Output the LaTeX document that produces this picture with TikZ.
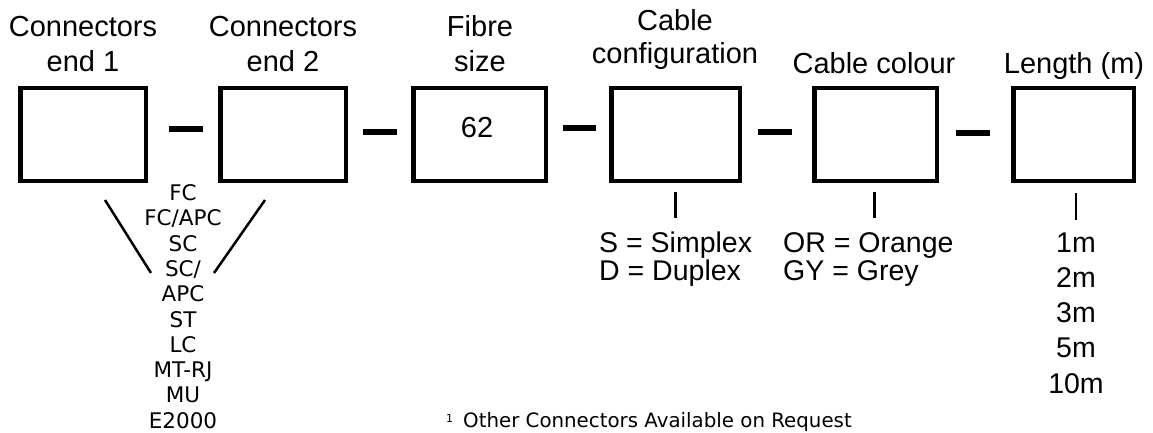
\documentclass[tikz,border=0pt]{standalone}
\usepackage{fontspec}
\setmainfont{Liberation Sans}
\newfontfamily\verd{DejaVu Sans}
\begin{document}
\begin{tikzpicture}[x=1pt,y=-1pt,
  box/.style={draw=black,line width=4.5pt,minimum width=#1,minimum height=93pt,inner sep=0pt,anchor=center},
  joiner/.style={line width=6.5pt},
  thin/.style={line width=2.5pt},
  lbl/.style={font=\fontsize{29}{35}\selectfont,inner sep=0pt,anchor=base},
  opt/.style={font=\fontsize{28.5}{35}\selectfont,inner sep=0pt,anchor=base},
  conn/.style={font=\verd\fontsize{21.5}{25}\selectfont,inner sep=0pt,anchor=base},
  note/.style={font=\verd\fontsize{19.8}{22}\selectfont,inner sep=0pt,anchor=base west}]
\useasboundingbox (0,0) rectangle (1153,432);
% boxes
\node[box=125.5pt] (b1) at (83,134.5) {};
\node[box=125.5pt] (b2) at (283,134.5) {};
\node[box=132.5pt] (b3) at (479.5,134.5) {};
\node[box=128.5pt] (b4) at (675.5,134.5) {};
\node[box=122.5pt] (b5) at (875.5,134.5) {};
\node[box=120.5pt] (b6) at (1073.5,134.5) {};
\node[lbl] (v62) at (477,137) {62};
% joiners
\coordinate (j1a) at (169,129); \coordinate (j1b) at (203,129);
\coordinate (j2a) at (363,132); \coordinate (j2b) at (397,132);
\coordinate (j3a) at (563,128); \coordinate (j3b) at (596,128);
\coordinate (j4a) at (758,132); \coordinate (j4b) at (792,132);
\coordinate (j5a) at (956,133); \coordinate (j5b) at (990,133);
\draw[joiner] (j1a) -- (j1b);
\draw[joiner] (j2a) -- (j2b);
\draw[joiner] (j3a) -- (j3b);
\draw[joiner] (j4a) -- (j4b);
\draw[joiner] (j5a) -- (j5b);
% titles
\node[lbl] (t1a) at (83,36) {Connectors};
\node[lbl] (t1b) at (83,71) {end 1};
\node[lbl] (t2a) at (283,36) {Connectors};
\node[lbl] (t2b) at (283,71) {end 2};
\node[lbl] (t3a) at (480,36.5) {Fibre};
\node[lbl] (t3b) at (480,71) {size};
\node[lbl] (t4a) at (675,30) {Cable};
\node[lbl] (t4b) at (675,63.5) {configuration};
\node[lbl] (t5) at (874,73) {Cable colour};
\node[lbl] (t6) at (1074,73) {Length (m)};
% connector list
\coordinate (l1a) at (105,200); \coordinate (l1b) at (151,273);
\coordinate (l2a) at (265,200); \coordinate (l2b) at (214,273);
\draw[thin] (l1a) -- (l1b);
\draw[thin] (l2a) -- (l2b);
\foreach \t [count=\i from 0] in {FC,FC/APC,SC,SC/,APC,ST,LC,MT-RJ,MU,E2000}
  \node[conn] (c\i) at (183,{200.5+\i*25.3}) {\t};
% ticks
\coordinate (k4a) at (675.5,192); \coordinate (k4b) at (675.5,218);
\coordinate (k5a) at (874.5,192); \coordinate (k5b) at (874.5,218);
\coordinate (k6a) at (1076,193); \coordinate (k6b) at (1076,220);
\draw[thin] (k4a) -- (k4b);
\draw[thin] (k5a) -- (k5b);
\draw[thin] (k6a) -- (k6b);
% options
\node[opt,anchor=base west] (s1) at (599,252) {S = Simplex};
\node[opt,anchor=base west] (s2) at (599,280) {D = Duplex};
\node[opt,anchor=base west] (o1) at (783,252) {OR = Orange};
\node[opt,anchor=base west] (o2) at (783,280) {GY = Grey};
\foreach \t [count=\i from 0] in {1m,2m,3m,5m,10m}
  \node[opt] (m\i) at (1076,{252+\i*35.3}) {\t};
% footnote
\node[font=\verd\fontsize{11}{12}\selectfont,inner sep=0pt,anchor=base west] (fn1) at (446,422) {1};
\node[note] (fn) at (463,427) {Other Connectors Available on Request};
\end{tikzpicture}
\end{document}
